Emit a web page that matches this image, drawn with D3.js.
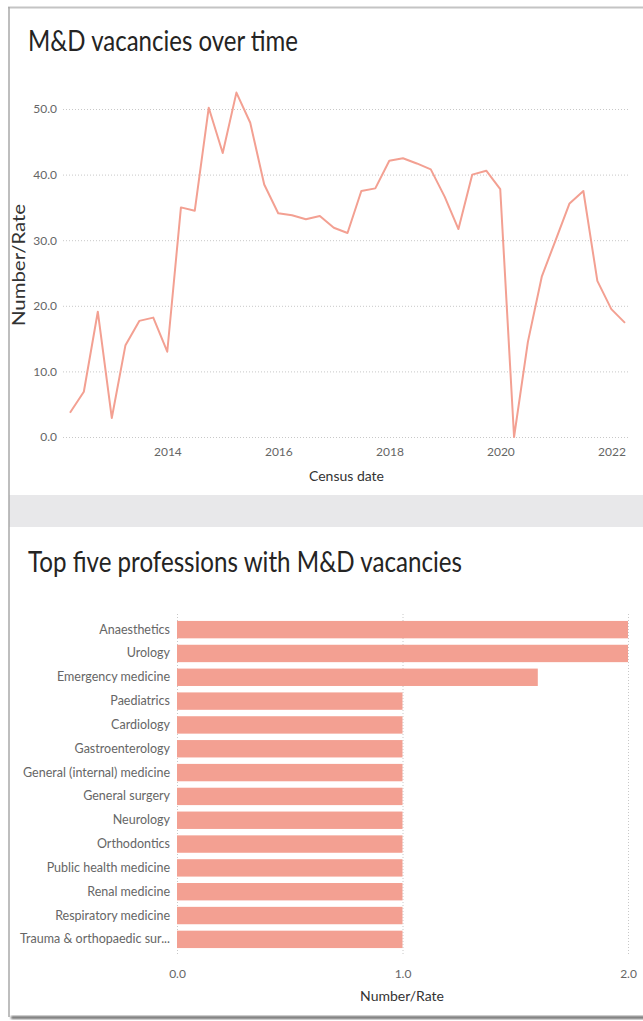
<!DOCTYPE html>
<html>
<head>
<meta charset="utf-8">
<script src="https://cdn.jsdelivr.net/npm/d3@7"></script>
<style>
  html, body { margin: 0; padding: 0; background: #fff; }
  svg { display: block; font-family: Lato, "Open Sans", sans-serif; }
</style>
</head>
<body>
<svg id="chart" width="643" height="1021"></svg>
<script>
// Quarterly census dates and medical & dental vacancy counts
const censusDates = [
  "2012-03-31","2012-06-30","2012-09-30","2012-12-31",
  "2013-03-31","2013-06-30","2013-09-30","2013-12-31",
  "2014-03-31","2014-06-30","2014-09-30","2014-12-31",
  "2015-03-31","2015-06-30","2015-09-30","2015-12-31",
  "2016-03-31","2016-06-30","2016-09-30","2016-12-31",
  "2017-03-31","2017-06-30","2017-09-30","2017-12-31",
  "2018-03-31","2018-06-30","2018-09-30","2018-12-31",
  "2019-03-31","2019-06-30","2019-09-30","2019-12-31",
  "2020-03-31","2020-06-30","2020-09-30","2020-12-31",
  "2021-03-31","2021-06-30","2021-09-30","2021-12-31",
  "2022-03-31"
];
const vacancies = [
  3.7, 6.9, 19.1, 2.9,
  14.0, 17.7, 18.2, 13.0,
  35.0, 34.5, 50.2, 43.3,
  52.5, 47.9, 38.5, 34.1,
  33.8, 33.2, 33.7, 31.9,
  31.1, 37.5, 37.9, 42.1,
  42.5, 41.7, 40.8, 36.6,
  31.7, 40.0, 40.6, 37.8,
  0.0, 14.5, 24.5, 30.1,
  35.6, 37.5, 23.8, 19.5,
  17.4
];
const yearTicks = [2014, 2016, 2018, 2020, 2022];
const vacancyTicks = [0, 10, 20, 30, 40, 50];

// Professions with the most vacancies
const professions = [
  "Anaesthetics", "Urology", "Emergency medicine", "Paediatrics", "Cardiology",
  "Gastroenterology", "General (internal) medicine", "General surgery", "Neurology",
  "Orthodontics", "Public health medicine", "Renal medicine", "Respiratory medicine",
  "Trauma & orthopaedic sur..."
];
const professionValues = [2, 2, 1.6, 1, 1, 1, 1, 1, 1, 1, 1, 1, 1, 1];
const rateTicks = [0, 1, 2];

const salmon = "#f3a092";
const tickGrey = "#666666";
const titleInk = "#252423";

const svg = d3.select("#chart");
const parse = d3.timeParse("%Y-%m-%d");
const series = censusDates.map((d, i) => ({ date: parse(d), value: vacancies[i] }));

// ---- page frame ----
const defs = svg.append("defs");
defs.append("filter").attr("id", "shadow")
  .append("feGaussianBlur").attr("stdDeviation", 1.2);

svg.append("rect").attr("x", 9).attr("y", 495).attr("width", 634).attr("height", 32)
  .attr("fill", "#e8e8ea");
svg.append("rect").attr("x", 11).attr("y", 1016).attr("width", 640).attr("height", 3)
  .attr("fill", "#6a6a6a").attr("filter", "url(#shadow)");
svg.append("line").attr("x1", 8).attr("x2", 643).attr("y1", 7.5).attr("y2", 7.5)
  .attr("stroke", "#c4c4c4").attr("stroke-width", 2);
svg.append("line").attr("x1", 9).attr("x2", 9).attr("y1", 7).attr("y2", 1017)
  .attr("stroke", "#a9a9a9").attr("stroke-width", 1.5);

// ---- line chart: vacancies over time ----
svg.append("text").attr("x", 28).attr("y", 51)
  .attr("font-size", 28).attr("fill", titleInk)
  .attr("textLength", 270).attr("lengthAdjust", "spacingAndGlyphs")
  .text("M&D vacancies over time");

const x = d3.scaleTime().domain(d3.extent(series, d => d.date)).range([70, 625]);
const y = d3.scaleLinear().domain([0, 50]).range([437, 109]);

// dotted horizontal gridlines
svg.append("g").attr("transform", "translate(63,0)")
  .call(d3.axisLeft(y).tickValues(vacancyTicks).tickSize(-565).tickFormat(""))
  .call(g => g.select(".domain").remove())
  .call(g => g.selectAll("line").attr("stroke", "#c8c8c8").attr("stroke-dasharray", "1,2"));

svg.append("g").attr("transform", "translate(63,0)")
  .call(d3.axisLeft(y).tickValues(vacancyTicks).tickSize(0).tickPadding(6).tickFormat(d3.format(".1f")))
  .call(g => g.select(".domain").remove())
  .call(g => g.selectAll("text").attr("fill", tickGrey).attr("font-size", 12)
    .attr("font-family", "Lato, sans-serif"));

svg.append("g").attr("transform", "translate(0,437)")
  .call(d3.axisBottom(x).tickValues(yearTicks.map(yr => new Date(yr, 0, 1)))
    .tickSize(0).tickPadding(10.5).tickFormat(d3.timeFormat("%Y")))
  .call(g => g.select(".domain").remove())
  .call(g => g.selectAll("text").attr("fill", tickGrey).attr("font-size", 12)
    .attr("font-family", "Lato, sans-serif"));

svg.append("text").attr("x", 346.5).attr("y", 481).attr("text-anchor", "middle")
  .attr("font-size", 14).attr("fill", "#333").text("Census date");

svg.append("text").attr("transform", "translate(25,265) rotate(-90)")
  .attr("text-anchor", "middle").attr("font-size", 17).attr("fill", "#333")
  .attr("textLength", 122).attr("lengthAdjust", "spacingAndGlyphs")
  .text("Number/Rate");

svg.append("path").datum(series)
  .attr("fill", "none").attr("stroke", salmon).attr("stroke-width", 2)
  .attr("stroke-linejoin", "round")
  .attr("d", d3.line().x(d => x(d.date)).y(d => y(d.value)));

// ---- bar chart: top professions ----
svg.append("text").attr("x", 28).attr("y", 572)
  .attr("font-size", 28).attr("fill", titleInk)
  .attr("textLength", 434).attr("lengthAdjust", "spacingAndGlyphs")
  .text("Top five professions with M&D vacancies");

const bx = d3.scaleLinear().domain([0, 2]).range([177, 628]);
const by = d3.scaleBand().domain(professions).range([614.5, 954.5]).padding(0.27);

svg.append("g").attr("transform", "translate(0,954)")
  .call(d3.axisBottom(bx).tickValues(rateTicks).tickSize(-342).tickFormat(""))
  .call(g => g.select(".domain").remove())
  .call(g => g.selectAll("line").attr("stroke", "#c8c8c8").attr("stroke-dasharray", "1,2"));

svg.append("g").selectAll("rect")
  .data(professions.map((p, i) => ({ name: p, value: professionValues[i] })))
  .join("rect")
  .attr("x", bx(0))
  .attr("y", d => by(d.name))
  .attr("width", d => bx(d.value) - bx(0))
  .attr("height", by.bandwidth())
  .attr("fill", salmon);

svg.append("g").attr("transform", "translate(177,0)")
  .call(d3.axisLeft(by).tickSize(0).tickPadding(7))
  .call(g => g.select(".domain").remove())
  .call(g => g.selectAll("text").attr("fill", tickGrey).attr("font-size", 12.5)
    .attr("font-family", "Lato, sans-serif"));

svg.append("g").attr("transform", "translate(0,954)")
  .call(d3.axisBottom(bx).tickValues(rateTicks).tickSize(0).tickPadding(15).tickFormat(d3.format(".1f")))
  .call(g => g.select(".domain").remove())
  .call(g => g.selectAll("text").attr("fill", tickGrey).attr("font-size", 12)
    .attr("font-family", "Lato, sans-serif"));

svg.append("text").attr("x", 402).attr("y", 1001).attr("text-anchor", "middle")
  .attr("font-size", 14).attr("fill", "#333").text("Number/Rate");
</script>
</body>
</html>
